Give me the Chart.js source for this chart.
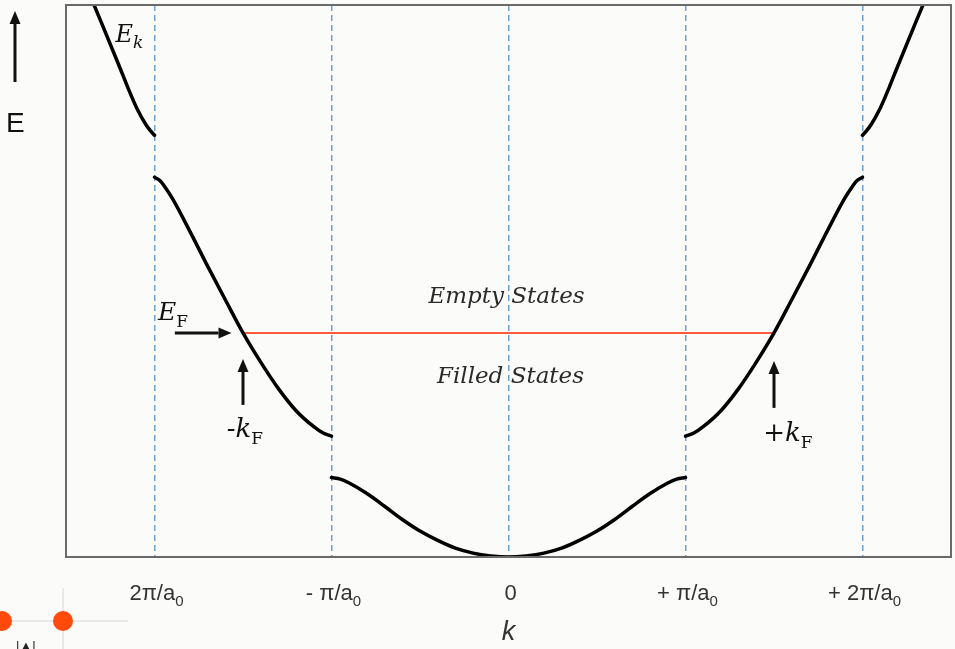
<!DOCTYPE html>
<html>
<head>
<meta charset="utf-8">
<title>Energy bands and the Fermi level</title>
<script src="https://cdn.jsdelivr.net/npm/chart.js@4.4.1/dist/chart.umd.min.js"></script>
<style>
  html, body { margin: 0; padding: 0; background: #fbfbf9; }
  canvas { display: block; }
</style>
</head>
<body>
<canvas id="bandChart" width="955" height="649"></canvas>
<script>
// k in units of pi/a0, E in arbitrary units (0 = bottom of the lowest band)
const kTicks = [-2, -1, 0, 1, 2];
const kTickLabels = ['2π/a_0', '- π/a_0', '0', '+ π/a_0', '+ 2π/a_0'];

// lowest band, -pi/a0 .. +pi/a0
const band1K = [-1.0, -0.95, -0.9, -0.8, -0.7, -0.6, -0.5, -0.4, -0.3, -0.2, -0.1, 0,
                0.1, 0.2, 0.3, 0.4, 0.5, 0.6, 0.7, 0.8, 0.9, 0.95, 1.0];
const band1E = [1.44, 1.41, 1.34, 1.15, 0.92, 0.68, 0.47, 0.30, 0.16, 0.07, 0.02, 0,
                0.02, 0.07, 0.16, 0.30, 0.47, 0.68, 0.92, 1.15, 1.34, 1.41, 1.44];

// second band, both halves
const band2LeftK = [-2.0, -1.97, -1.94, -1.9, -1.8, -1.7, -1.6, -1.5, -1.4, -1.3, -1.2, -1.1, -1.05, -1.0];
const band2LeftE = [6.88, 6.82, 6.70, 6.50, 5.90, 5.27, 4.66, 4.06, 3.53, 3.05, 2.65, 2.36, 2.25, 2.19];
const band2RightK = [1.0, 1.05, 1.1, 1.2, 1.3, 1.4, 1.5, 1.6, 1.7, 1.8, 1.9, 1.94, 1.97, 2.0];
const band2RightE = [2.19, 2.25, 2.36, 2.65, 3.05, 3.53, 4.06, 4.66, 5.27, 5.90, 6.50, 6.70, 6.82, 6.88];

// third band, runs off the top of the frame
const band3LeftK = [-2.4, -2.3, -2.2, -2.15, -2.1, -2.05, -2.02, -2.0];
const band3LeftE = [10.45, 9.68, 8.90, 8.50, 8.13, 7.84, 7.71, 7.64];
const band3RightK = [2.0, 2.02, 2.05, 2.1, 2.15, 2.2, 2.3, 2.4];
const band3RightE = [7.64, 7.71, 7.84, 8.13, 8.50, 8.90, 9.68, 10.45];

// Fermi level between -kF and +kF
const fermiK = [-1.5, 1.5];
const fermiE = [4.06, 4.06];

const toPoints = (ks, es) => ks.map((k, i) => ({ x: k, y: es[i] }));

function bandDataset(ks, es) {
    return {
        data: toPoints(ks, es),
        borderColor: '#000000',
        borderWidth: 3.5,
        borderCapStyle: 'round',
        borderJoinStyle: 'round',
        pointRadius: 0,
        cubicInterpolationMode: 'monotone',
        order: 0
    };
}

// draws text runs side by side, each with its own font and vertical shift
function drawRich(ctx, x, y, parts, align) {
    let total = 0;
    parts.forEach(p => { ctx.font = p.font; p.w = ctx.measureText(p.text).width; total += p.w; });
    let cx = align === 'center' ? x - total / 2 : x;
    parts.forEach(p => {
        ctx.font = p.font;
        ctx.fillStyle = p.color || ctx.fillStyle;
        ctx.textAlign = 'left';
        ctx.textBaseline = 'alphabetic';
        ctx.fillText(p.text, cx, y + (p.dy || 0));
        cx += p.w;
    });
}

function drawArrow(ctx, x1, y1, x2, y2) {
    const ang = Math.atan2(y2 - y1, x2 - x1);
    const head = 13, half = 5.5;
    ctx.lineWidth = 3;
    ctx.beginPath();
    ctx.moveTo(x1, y1);
    ctx.lineTo(x2 - head * Math.cos(ang), y2 - head * Math.sin(ang));
    ctx.stroke();
    ctx.beginPath();
    ctx.moveTo(x2, y2);
    ctx.lineTo(x2 - head * Math.cos(ang) - half * Math.sin(ang), y2 - head * Math.sin(ang) + half * Math.cos(ang));
    ctx.lineTo(x2 - head * Math.cos(ang) + half * Math.sin(ang), y2 - head * Math.sin(ang) - half * Math.cos(ang));
    ctx.closePath();
    ctx.fill();
}

const serifIt = (s) => 'italic ' + s + 'px "DejaVu Serif"';
const serif = (s) => s + 'px "DejaVu Serif"';
const sans = (s) => s + 'px "Liberation Sans"';

const decorations = {
    id: 'decorations',
    afterDraw(chart) {
        const { ctx, chartArea: a, scales: { x, y } } = chart;
        ctx.save();

        // frame round the plot
        ctx.strokeStyle = '#6a6a6a';
        ctx.lineWidth = 2;
        ctx.strokeRect(a.left, a.top, a.right - a.left, a.bottom - a.top);

        // k tick labels with subscripts
        x.ticks.forEach((t, i) => {
            const [main, sub] = kTickLabels[i].split('_');
            const parts = [{ text: main, font: sans(22), color: '#333333' }];
            if (sub) parts.push({ text: sub, font: sans(15), dy: 6, color: '#333333' });
            drawRich(ctx, x.getPixelForValue(t.value) + 2, 600, parts, 'center');
        });

        // axis titles
        drawRich(ctx, x.getPixelForValue(0), 640, [{ text: 'k', font: 'italic ' + sans(27), color: '#333333' }], 'center');
        ctx.fillStyle = '#111111';
        ctx.strokeStyle = '#111111';
        drawRich(ctx, 6, 132, [{ text: 'E', font: sans(28), color: '#111111' }], 'left');
        drawArrow(ctx, 15, 82, 15, 11);

        // band and Fermi annotations
        ctx.fillStyle = '#111111';
        drawRich(ctx, x.getPixelForValue(-2.22), 42, [
            { text: 'E', font: serifIt(24) },
            { text: 'k', font: serifIt(17), dy: 6 }
        ], 'left');

        const yF = y.getPixelForValue(fermiE[0]);
        drawRich(ctx, x.getPixelForValue(-1.98), yF - 13, [
            { text: 'E', font: serifIt(25) },
            { text: 'F', font: serif(17), dy: 7 }
        ], 'left');
        drawArrow(ctx, x.getPixelForValue(-1.885), yF, x.getPixelForValue(-1.565), yF);

        const xl = x.getPixelForValue(fermiK[0]);
        const xr = x.getPixelForValue(fermiK[1]);
        drawArrow(ctx, xl, yF + 72, xl, yF + 26);
        drawArrow(ctx, xr, yF + 75, xr, yF + 28);
        drawRich(ctx, xl + 2, yF + 104, [
            { text: '-', font: serifIt(26) },
            { text: 'k', font: serifIt(26) },
            { text: 'F', font: serif(17), dy: 7 }
        ], 'center');
        drawRich(ctx, xr + 14, yF + 108, [
            { text: '+', font: serifIt(26) },
            { text: 'k', font: serifIt(26) },
            { text: 'F', font: serif(17), dy: 7 }
        ], 'center');

        ctx.fillStyle = '#2a2a2a';
        drawRich(ctx, x.getPixelForValue(0) - 2, yF - 30, [{ text: 'Empty States', font: serifIt(23) }], 'center');
        drawRich(ctx, x.getPixelForValue(0) + 2, yF + 50, [{ text: 'Filled States', font: serifIt(23) }], 'center');

        // player scrub bar in the lower left corner
        ctx.strokeStyle = '#d6d6d6';
        ctx.lineWidth = 1;
        ctx.beginPath();
        ctx.moveTo(0, 621); ctx.lineTo(128, 621);
        ctx.moveTo(63, 588); ctx.lineTo(63, 649);
        ctx.stroke();
        ctx.fillStyle = '#ff4a0c';
        ctx.beginPath(); ctx.arc(2, 621, 10, 0, Math.PI * 2); ctx.fill();
        ctx.beginPath(); ctx.arc(63, 621, 10, 0, Math.PI * 2); ctx.fill();
        ctx.fillStyle = '#222222';
        ctx.font = sans(13);
        ctx.fillText('|▲|', 16, 650);

        ctx.restore();
    }
};

new Chart(document.getElementById('bandChart'), {
    type: 'scatter',
    data: {
        datasets: [
            bandDataset(band1K, band1E),
            bandDataset(band2LeftK, band2LeftE),
            bandDataset(band2RightK, band2RightE),
            bandDataset(band3LeftK, band3LeftE),
            bandDataset(band3RightK, band3RightE),
            {
                data: toPoints(fermiK, fermiE),
                borderColor: '#ff5a3a',
                borderWidth: 2,
                pointRadius: 0,
                order: 5
            }
        ].map(ds => Object.assign({ showLine: true }, ds))
    },
    options: {
        responsive: false,
        animation: false,
        devicePixelRatio: 1,
        layout: { padding: { left: 66, right: 4, top: 5, bottom: 92 } },
        plugins: { legend: { display: false }, tooltip: { enabled: false } },
        scales: {
            x: {
                type: 'linear',
                min: -2.5,
                max: 2.5,
                afterBuildTicks: (scale) => { scale.ticks = kTicks.map(v => ({ value: v })); },
                ticks: { display: false },
                grid: { color: '#6aa2d8', lineWidth: 1.5, drawTicks: false },
                border: { display: false, dash: [6, 4] }
            },
            y: {
                display: false,
                min: 0,
                max: 10
            }
        }
    },
    plugins: [decorations]
});
</script>
</body>
</html>
